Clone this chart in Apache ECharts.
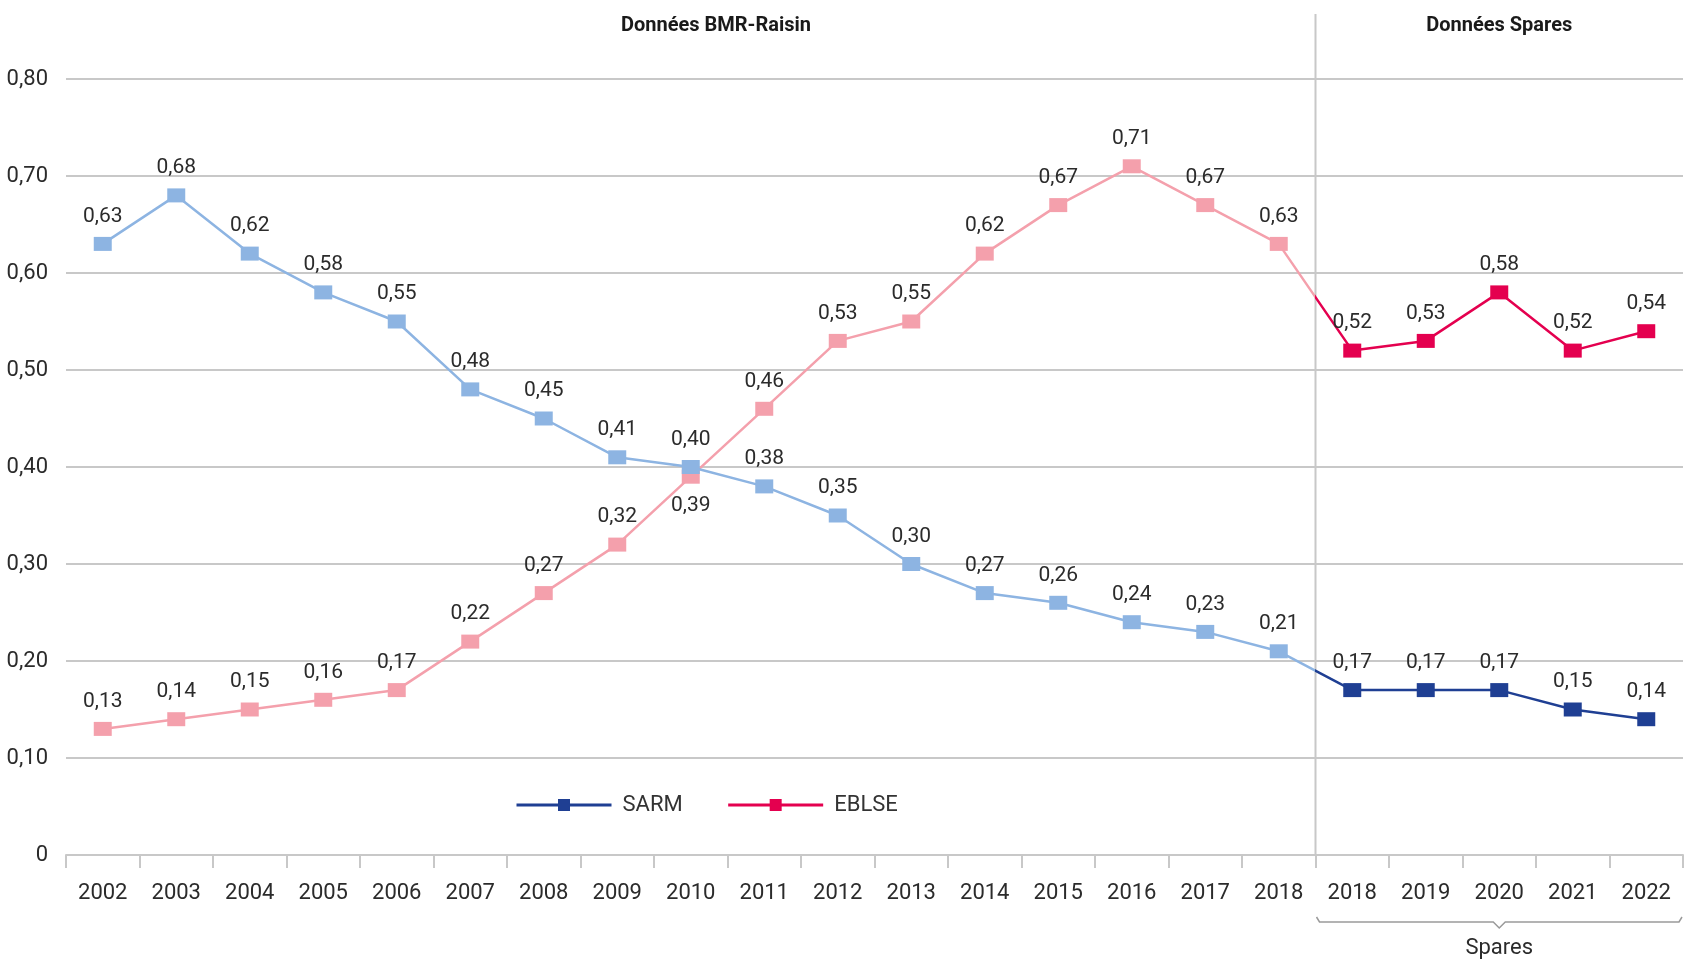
<!DOCTYPE html>
<html>
<head>
<meta charset="utf-8">
<script src="https://cdn.jsdelivr.net/npm/echarts@6/dist/echarts.min.js"></script>
<style>
  html, body { margin: 0; padding: 0; background: #fff; }
  #chart { width: 1685px; height: 965px; }
</style>
</head>
<body>
<div id="chart"></div>
<script>
// annees : 17 points BMR-Raisin puis 5 points Spares
let years = ['2002','2003','2004','2005','2006','2007','2008','2009','2010','2011','2012',
             '2013','2014','2015','2016','2017','2018','2018','2019','2020','2021','2022'];
let sarmBmr = [0.63,0.68,0.62,0.58,0.55,0.48,0.45,0.41,0.40,0.38,0.35,0.30,0.27,0.26,0.24,0.23,0.21];
let sarmSpares = [0.17,0.17,0.17,0.15,0.14];
let eblseBmr = [0.13,0.14,0.15,0.16,0.17,0.22,0.27,0.32,0.39,0.46,0.53,0.55,0.62,0.67,0.71,0.67,0.63];
let eblseSpares = [0.52,0.53,0.58,0.52,0.54];
let yTicks = [0,0.1,0.2,0.3,0.4,0.5,0.6,0.7,0.8];

let colSarmLight = '#8db4e2', colSarmDark = '#1f3f93';
let colEblseLight = '#f4a0ac', colEblseDark = '#e4004f';
let font = 'Roboto, "DejaVu Sans", sans-serif';
let nBmr = sarmBmr.length;
let nAll = years.length;

function fr(v) {
    return v === 0 ? '0' : v.toFixed(2).replace('.', ',');
}

// remplit avec null hors de la plage [from, from+vals.length)
function place(vals, from) {
    let out = [];
    for (let i = 0; i < nAll; i++) {
        out.push(i >= from && i < from + vals.length ? vals[i - from] : null);
    }
    return out;
}

// segment 2018 BMR -> 2018 Spares, couleur qui change au separateur
function bridge(bmr, spares) {
    return place([bmr[bmr.length - 1], spares[0]], nBmr - 1);
}

function split(c1, c2) {
    return new echarts.graphic.LinearGradient(0, 0, 1, 0, [
        {offset: 0, color: c1}, {offset: 0.5, color: c1},
        {offset: 0.5, color: c2}, {offset: 1, color: c2}
    ]);
}

let labelOpt = {show: true, position: 'top', distance: 10, fontSize: 21, color: '#2b2b2b',
                fontFamily: font, formatter: p => fr(p.value)};

function lineSeries(name, data, color, z) {
    return {
        name: name,
        type: 'line',
        z: z,
        data: data,
        symbol: 'rect',
        symbolSize: [18, 14],
        itemStyle: {color: color},
        lineStyle: {width: 2.5, color: color},
        label: labelOpt
    };
}

let eblseBmrData = place(eblseBmr, 0).map((v, i) => {
    //0,39 en 2010 : etiquette sous le point
    if (i === 8) return {value: v, label: {position: 'bottom', distance: 12}};
    return v;
});

let container = document.getElementById('chart');
let myChart = echarts.init(container);

myChart.setOption({
    animation: false,
    textStyle: {fontFamily: font},
    grid: {left: 66, right: 2, top: 79, bottom: 110, containLabel: false},
    legend: {
        left: 510,
        top: 789,
        itemWidth: 95,
        itemHeight: 15,
        itemGap: 44,
        textStyle: {fontSize: 22, color: '#333', fontFamily: font, padding: [0, 0, 0, 6]},
        data: [
            {name: 'SARM', itemStyle: {color: colSarmDark}, lineStyle: {color: colSarmDark, width: 3}},
            {name: 'EBLSE', itemStyle: {color: colEblseDark}, lineStyle: {color: colEblseDark, width: 3}}
        ]
    },
    xAxis: {
        type: 'category',
        data: years,
        boundaryGap: true,
        axisLine: {lineStyle: {color: '#c8c8c8', width: 2}},
        axisTick: {show: true, interval: 0, length: 13, lineStyle: {color: '#c8c8c8', width: 2}},
        axisLabel: {interval: 0, margin: 27, fontSize: 22, color: '#2b2b2b', fontFamily: font}
    },
    yAxis: {
        type: 'value',
        min: yTicks[0],
        max: yTicks[yTicks.length - 1],
        interval: 0.1,
        axisLine: {show: false},
        axisTick: {show: false},
        splitLine: {lineStyle: {color: '#c8c8c8', width: 2}},
        axisLabel: {margin: 18, fontSize: 22, color: '#2b2b2b', fontFamily: font, formatter: fr}
    },
    series: [
        lineSeries('EBLSE', eblseBmrData, colEblseLight, 3),
        lineSeries('EBLSE', place(eblseSpares, nBmr), colEblseDark, 3),
        {name: 'EBLSE', type: 'line', z: 2, data: bridge(eblseBmr, eblseSpares), symbol: 'none',
         lineStyle: {width: 2.5, color: split(colEblseLight, colEblseDark)}},
        lineSeries('SARM', place(sarmBmr, 0), colSarmLight, 5),
        lineSeries('SARM', place(sarmSpares, nBmr), colSarmDark, 5),
        {name: 'SARM', type: 'line', z: 4, data: bridge(sarmBmr, sarmSpares), symbol: 'none',
         lineStyle: {width: 2.5, color: split(colSarmLight, colSarmDark)}}
    ]
});

// separateur, accolade et titres des deux blocs
let x16 = myChart.convertToPixel({xAxisIndex: 0}, nBmr - 1);
let x17 = myChart.convertToPixel({xAxisIndex: 0}, nBmr);
let xLast = myChart.convertToPixel({xAxisIndex: 0}, nAll - 1);
let band = x17 - x16;
let xSep = (x16 + x17) / 2;
let xEnd = xLast + band / 2;
let xMid = (xSep + xEnd) / 2;
let yBase = myChart.convertToPixel({yAxisIndex: 0}, 0);

myChart.setOption({
    graphic: [
        {type: 'line', z: 1, shape: {x1: xSep, y1: 14, x2: xSep, y2: yBase},
         style: {stroke: '#c8c8c8', lineWidth: 2}},
        {type: 'polyline', shape: {points: [
            [xSep + 1, 917], [xSep + 4, 922], [xMid - 6, 922], [xMid, 928],
            [xMid + 6, 922], [xEnd - 4, 922], [xEnd - 1, 917]]},
         style: {stroke: '#9a9a9a', lineWidth: 1.5, fill: null}},
        {type: 'text', x: xMid, y: 948,
         style: {text: 'Spares', fontSize: 22, fontFamily: font, fill: '#2b2b2b',
                 textAlign: 'center', textVerticalAlign: 'middle'}},
        {type: 'text', x: 716, y: 26,
         style: {text: 'Données BMR-Raisin', fontSize: 20, fontWeight: 'bold', fontFamily: font,
                 fill: '#1a1a1a', textAlign: 'center', textVerticalAlign: 'middle'}},
        {type: 'text', x: xMid, y: 26,
         style: {text: 'Données Spares', fontSize: 20, fontWeight: 'bold', fontFamily: font,
                 fill: '#1a1a1a', textAlign: 'center', textVerticalAlign: 'middle'}}
    ]
});
</script>
</body>
</html>
